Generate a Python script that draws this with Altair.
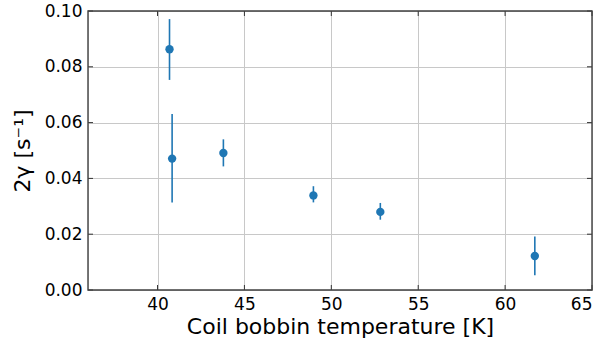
import altair as alt
import pandas as pd

# Data
temps = [40.69, 40.84, 43.79, 48.97, 52.82, 61.71]
gamma = [0.0863, 0.0471, 0.0491, 0.0339, 0.0280, 0.0122]
err_lo = [0.0753, 0.0314, 0.0443, 0.0314, 0.0252, 0.0053]
err_hi = [0.0971, 0.0631, 0.0540, 0.0372, 0.0312, 0.0192]

x_ticks = [40, 45, 50, 55, 60, 65]
y_ticks = [0.0, 0.02, 0.04, 0.06, 0.08, 0.10]

W, H = 504, 279
BLUE = "#1f77b4"
FONT = "DejaVu Sans"

df = pd.DataFrame({"T": temps, "g": gamma, "lo": err_lo, "hi": err_hi})
xt = pd.DataFrame({"T": x_ticks})
yt = pd.DataFrame({"g": y_ticks})
frame_df = pd.DataFrame({"k": [0]})

xscale = alt.Scale(domain=[36, 65], nice=False, zero=False)
yscale = alt.Scale(domain=[0, 0.10], nice=False)

xaxis = alt.Axis(values=x_ticks, title="Coil bobbin temperature [K]", format="d",
                 grid=True, ticks=False, domain=False, labelPadding=6,
                 titlePadding=4, labelFontSize=17, titleFontSize=22,
                 labelColor="#000", titleColor="#000", labelFont=FONT, titleFont=FONT,
                 titleFontWeight="normal", gridColor="#c8c8c8", gridWidth=1)
yaxis = alt.Axis(values=y_ticks, title="2γ [s⁻¹]", format=".2f",
                 grid=True, ticks=False, domain=False, labelPadding=6,
                 titlePadding=10, labelFontSize=17, titleFontSize=22,
                 labelColor="#000", titleColor="#000", labelFont=FONT, titleFont=FONT,
                 titleFontWeight="normal", gridColor="#c8c8c8", gridWidth=1)

errs = alt.Chart(df).mark_rule(color=BLUE, strokeWidth=1.6).encode(
    x=alt.X("T:Q", scale=xscale, axis=xaxis),
    y=alt.Y("lo:Q", scale=yscale, axis=yaxis),
    y2="hi:Q",
)
pts = alt.Chart(df).mark_circle(color=BLUE, size=70, opacity=1).encode(
    x=alt.X("T:Q", scale=xscale),
    y=alt.Y("g:Q", scale=yscale),
)

tk = dict(color="#333333", strokeWidth=1)
xb = alt.Chart(xt).mark_rule(**tk).encode(x=alt.X("T:Q", scale=xscale), y=alt.value(H), y2=alt.value(H - 5))
xtop = alt.Chart(xt).mark_rule(**tk).encode(x=alt.X("T:Q", scale=xscale), y=alt.value(0), y2=alt.value(5))
yl = alt.Chart(yt).mark_rule(**tk).encode(y=alt.Y("g:Q", scale=yscale), x=alt.value(0), x2=alt.value(5))
yr = alt.Chart(yt).mark_rule(**tk).encode(y=alt.Y("g:Q", scale=yscale), x=alt.value(W), x2=alt.value(W - 5))

frame = alt.Chart(frame_df).mark_rect(fill=None, stroke="#404040", strokeWidth=1.4, fillOpacity=0).encode(
    x=alt.value(0), x2=alt.value(W), y=alt.value(0), y2=alt.value(H)
)

chart = alt.layer(errs, pts, xb, xtop, yl, yr, frame).properties(
    width=W, height=H,
    autosize=alt.AutoSizeParams(type="none"),
    padding={"left": 88, "top": 11, "right": 11, "bottom": 50},
).configure_view(stroke=None).configure(background="white")

chart.save("out.html", embed_options={"renderer": "svg", "actions": False})
